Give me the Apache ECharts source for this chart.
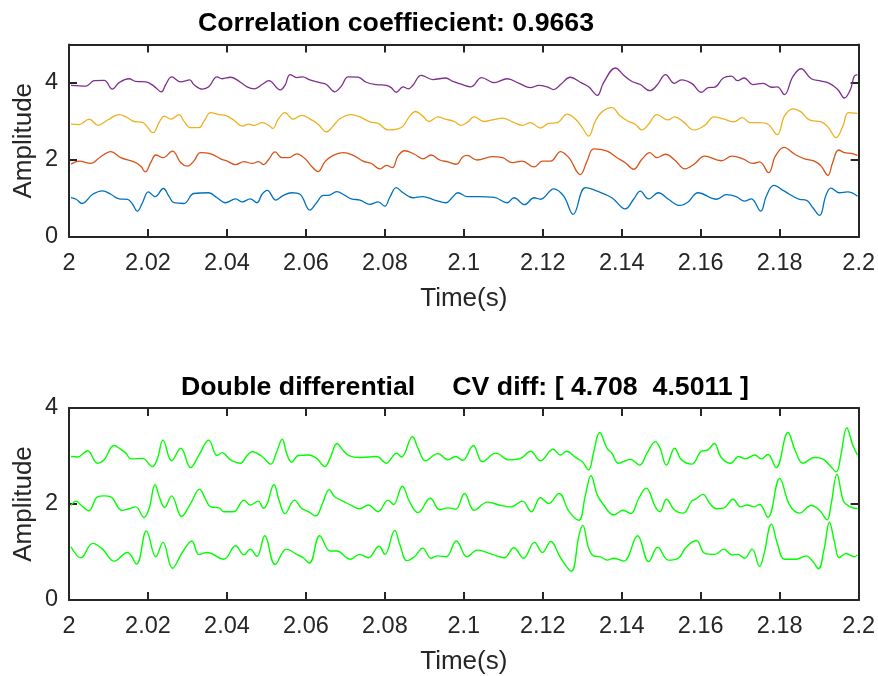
<!DOCTYPE html>
<html>
<head>
<meta charset="utf-8">
<script src="https://cdn.jsdelivr.net/npm/echarts@6/dist/echarts.min.js"></script>
<style>
  html, body { margin: 0; padding: 0; background: #fff; }
  #chart { width: 878px; height: 676px; }
</style>
</head>
<body>
<div id="chart"></div>
<script>
// Each trace: [milliseconds after t = 2 s, amplitude]
const topBlue = [[0.5,1.02],[1.8,0.98],[3.3,0.87],[6.0,1.11],[8.5,1.20],[10.6,1.11],[12.7,0.99],[14.8,0.98],[16.1,0.85],[17.3,0.67],[18.6,0.89],[20.1,1.17],[21.8,1.05],[23.9,1.26],[25.3,1.06],[26.6,0.89],[29.1,0.87],[31.6,1.13],[35.4,1.15],[37.5,1.02],[39.6,0.89],[42.2,0.99],[43.9,0.91],[45.9,0.99],[47.6,0.89],[48.9,1.11],[50.2,1.21],
[52.4,0.96],[54.3,1.08],[56.4,1.15],[58.5,1.11],[61.0,0.70],[62.7,0.89],[64.4,1.08],[65.7,1.08],[67.8,1.18],[69.9,1.08],[71.5,0.99],[73.7,0.96],[76.2,0.85],[78.3,0.91],[80.0,0.80],[81.2,1.02],[82.9,1.28],[84.6,1.15],[87.1,1.02],[89.6,1.05],[92.6,0.96],[95.5,0.89],[97.0,1.02],[98.5,1.15],[100.8,1.05],
[103.4,1.05],[107.7,1.03],[111.0,0.89],[112.7,1.02],[115.4,0.84],[117.8,1.02],[119.4,0.98],[122.8,1.25],[125.3,1.06],[127.7,0.59],[130.8,1.28],[133.8,1.19],[137.5,1.02],[140.9,0.73],[143.0,0.98],[144.7,1.19],[146.8,0.99],[149.3,1.15],
[151.8,0.98],[154.7,0.82],[156.8,0.91],[159.3,1.15],[164.0,0.98],[166.5,1.10],[169.0,1.05],[171.1,0.93],[172.8,0.99],[175.2,0.67],[176.6,1.06],[178.5,1.34],[181.2,1.19],[185.0,0.98],[186.7,0.96],[188.4,0.76],[190.1,0.56],[191.7,1.08],[193.0,1.27],[195.1,1.15],[197.2,1.17],[199.7,1.06]];

const topRed = [[0.5,1.89],[2.6,1.97],[5.6,1.91],[7.7,2.06],[10.6,2.22],[13.1,2.06],[16.5,1.95],[18.2,1.84],[19.3,1.69],[20.7,1.93],[22.0,2.13],[23.8,2.06],[26.2,2.23],[28.3,1.93],[30.0,1.84],[31.6,1.97],[33.3,2.19],[35.9,2.16],[38.4,2.03],[40.1,1.97],[42.2,1.88],[44.3,1.96],[46.4,1.91],[48.0,1.96],[49.3,1.88],[50.6,2.02],
[52.2,2.21],[53.9,2.06],[55.6,2.06],[57.7,2.16],[59.8,2.03],[61.4,1.84],[63.1,1.70],[64.8,1.95],[66.9,2.12],[69.4,2.19],[72.0,2.12],[74.5,1.97],[76.6,1.91],[78.7,1.77],[80.4,1.86],[81.9,1.80],[83.3,2.10],[85.0,2.24],[87.5,2.15],[89.6,2.03],[91.7,2.13],[93.9,2.00],[96.0,1.95],[98.1,1.89],[99.7,2.08],[100.8,2.12],
[103.4,2.00],[107.2,2.09],[109.8,2.06],[112.3,1.93],[114.8,1.97],[117.8,1.82],[119.9,1.97],[122.0,1.97],[124.5,2.22],[126.6,2.06],[129.5,1.62],[131.2,1.97],[132.9,2.29],[136.3,2.23],[138.8,2.06],[140.9,1.93],[143.0,1.76],[145.1,2.02],[147.1,2.19],[148.9,2.06],
[151.1,2.15],[153.4,2.00],[156.0,1.77],[158.3,1.89],[161.0,2.10],[165.2,1.98],[167.9,2.10],[170.7,2.03],[173.2,1.91],[174.9,1.95],[177.2,1.67],[178.9,2.10],[181.1,2.33],[183.8,2.15],[186.3,2.03],[188.8,1.97],[190.5,1.84],[192.2,1.60],[193.4,1.93],[194.9,2.26],[196.4,2.19],[198.1,2.17],[199.7,2.12]];

const topYellow = [[0.5,2.93],[2.6,2.92],[5.1,3.06],[7.4,2.90],[9.8,3.04],[12.7,3.18],[14.4,3.12],[16.5,3.00],[18.6,2.98],[21.3,2.71],[22.8,2.97],[24.1,3.14],[25.8,3.06],[27.9,3.18],[29.1,3.01],[30.8,2.84],[32.9,2.84],[34.2,3.01],[35.9,3.23],[38.0,3.18],[39.6,3.16],[41.7,3.04],[43.9,2.88],[45.5,2.93],[47.0,2.90],[48.9,2.97],[50.6,2.90],
[51.6,2.82],[53.0,3.06],[54.7,3.23],[56.8,3.06],[58.9,3.16],[61.0,3.07],[63.1,2.93],[65.2,2.73],[66.9,2.88],[68.6,3.07],[71.5,3.18],[73.7,3.12],[76.2,2.99],[78.3,2.95],[80.8,2.78],[83.3,2.81],[84.6,2.88],[86.3,3.14],[87.8,3.26],[89.6,3.14],[91.2,3.00],[93.4,3.12],[95.4,3.06],[97.6,3.00],[99.3,2.90],[100.8,2.97],
[102.6,3.12],[105.1,3.00],[107.2,3.04],[109.8,3.09],[112.3,2.99],[114.8,2.90],[116.9,2.97],[119.4,2.83],[121.5,2.95],[123.7,2.97],[126.2,3.19],[128.3,3.06],[130.0,2.84],[131.6,2.62],[133.3,3.01],[135.0,3.25],[137.5,3.36],[139.6,3.14],[141.7,3.00],[143.4,2.93],[145.1,2.78],[146.8,2.93],[148.9,3.18],
[151.6,3.04],[153.4,3.12],[155.6,2.99],[158.3,2.78],[161.0,2.90],[163.4,3.12],[165.7,3.07],[168.4,2.99],[170.5,3.10],[172.6,2.97],[174.9,2.97],[177.0,2.93],[179.4,2.66],[181.2,3.14],[183.3,3.33],[185.4,3.25],[187.5,3.04],[190.5,2.99],[192.2,2.86],[194.3,2.58],[196.0,2.88],[197.4,3.23],[199.7,3.21]];

const topPurple = [[0.5,3.94],[4.3,3.92],[6.4,4.06],[8.9,4.07],[11.0,3.84],[12.7,4.01],[15.2,4.11],[16.9,4.04],[19.4,4.03],[21.5,3.92],[23.4,3.77],[24.5,3.96],[26.0,4.16],[28.3,4.03],[30.6,4.08],[31.6,3.96],[33.8,3.84],[35.4,3.90],[37.5,4.16],[38.8,4.11],[40.9,4.15],[43.0,4.05],[45.1,3.90],[47.0,3.85],[48.9,3.96],[50.6,4.06],
[53.5,3.82],[54.7,3.94],[56.0,4.22],[57.7,4.14],[59.2,4.16],[61.0,4.08],[63.5,4.01],[65.2,3.96],[67.3,3.77],[69.0,3.92],[70.7,4.16],[73.2,4.15],[75.3,4.02],[77.9,3.96],[80.4,3.94],[81.6,3.88],[82.9,3.76],[84.6,3.90],[85.9,3.85],[87.1,3.94],[89.2,4.20],[92.2,4.09],[95.4,4.13],[97.2,4.04],[99.3,3.97],
[101.8,3.90],[104.5,4.14],[107.7,4.01],[111.0,4.11],[114.0,3.99],[116.9,3.88],[119.0,3.94],[121.1,3.90],[122.8,3.83],[124.5,3.96],[127.0,4.15],[129.5,4.02],[131.6,3.90],[133.8,3.68],[135.4,4.01],[138.4,4.39],[140.5,4.20],[142.6,4.04],[144.7,3.96],[147.1,3.80],[148.9,3.94],
[151.1,4.22],[153.3,3.99],[155.1,4.08],[157.7,3.99],[160.2,3.76],[161.9,3.88],[163.5,3.89],[165.7,4.13],[167.8,4.18],[169.3,4.06],[171.0,4.13],[173.2,3.96],[175.8,3.99],[177.9,3.89],[179.4,3.90],[181.2,3.70],[183.3,4.16],[185.4,4.37],[188.0,4.11],[190.5,4.05],[192.6,3.99],[194.7,3.83],[196.4,3.61],[197.9,3.83],[198.9,4.18],[199.7,4.22]];

const diffUpper = [[0.5,2.99],[2.2,2.98],[4.7,3.11],[7.2,2.85],[8.9,2.92],[11.4,3.22],[13.1,3.14],[14.4,3.06],[15.7,2.94],[18.6,2.95],[21.1,2.78],[22.4,2.95],[23.8,3.33],[26.0,2.90],[28.3,3.16],[30.8,2.76],[32.9,3.02],[35.4,3.33],[37.5,3.01],[38.8,3.07],[40.9,2.92],[43.4,2.85],[45.1,3.01],[46.4,3.09],[48.9,2.99],[51.1,2.83],
[52.6,3.09],[54.0,3.35],[55.1,3.06],[56.4,2.87],[58.1,3.01],[60.6,3.02],[62.7,2.95],[64.8,2.78],[66.1,2.95],[67.9,3.26],[69.4,3.12],[70.9,3.01],[73.6,2.97],[75.8,2.98],[77.9,2.99],[80.4,2.85],[81.6,2.95],[82.9,3.06],[84.2,2.98],[87.0,3.40],[88.4,3.16],[90.3,2.90],[93.4,3.05],[96.0,2.92],[97.9,2.99],[99.7,2.91],
[102.4,3.22],[104.7,2.88],[108.1,3.06],[111.4,2.92],[114.4,2.95],[116.9,3.10],[119.4,2.90],[122.6,3.14],[124.5,3.02],[126.0,3.10],[128.3,2.97],[130.0,2.88],[131.6,2.71],[132.9,3.09],[134.4,3.49],[136.3,3.16],[137.5,3.06],[139.2,2.85],[142.2,2.93],[144.5,2.81],[146.4,3.06],[148.5,3.30],[149.7,3.16],
[151.3,2.81],[153.4,3.16],[155.1,2.92],[157.7,2.83],[160.2,3.10],[161.7,3.12],[163.4,3.26],[165.2,2.97],[167.6,2.85],[169.6,2.99],[171.3,2.94],[173.7,3.02],[175.3,2.94],[177.0,3.03],[179.1,2.76],[182.1,3.49],[183.9,3.12],[185.9,2.85],[188.8,2.97],[190.9,2.94],[192.6,2.81],[194.3,2.67],[195.5,3.02],[197.0,3.59],[198.5,3.23],[199.7,3.02]];

const diffMiddle = [[0.5,1.97],[1.8,2.06],[3.0,1.98],[5.0,1.86],[7.2,2.15],[8.9,2.17],[10.6,2.15],[13.4,1.87],[15.2,1.90],[16.9,1.94],[19.0,1.72],[20.3,1.91],[21.8,2.40],[23.0,2.12],[24.2,1.93],[26.0,2.17],[28.5,1.74],[30.8,2.01],[33.1,2.31],[34.4,2.13],[35.9,1.94],[38.0,1.92],[39.2,1.84],[41.7,1.84],[44.3,2.08],[45.9,1.98],[47.9,2.06],[49.3,1.91],[50.2,2.01],
[51.9,2.40],[53.3,2.05],[54.7,1.80],[57.1,2.08],[58.9,1.91],[60.6,1.84],[62.5,1.75],[64.2,2.01],[65.9,2.30],[67.3,2.15],[69.4,2.06],[71.5,1.97],[73.6,1.90],[75.8,1.98],[78.3,1.84],[80.8,2.08],[82.2,1.99],[84.4,2.37],[86.3,2.04],[88.4,1.82],[91.5,2.12],[93.9,1.88],[96.0,1.92],[97.9,1.89],[100.2,2.22],
[102.6,1.87],[106.0,2.04],[108.9,1.98],[111.9,1.94],[114.8,2.06],[117.1,1.84],[119.4,2.13],[121.5,2.01],[124.1,2.22],[126.6,1.85],[129.1,1.66],[130.8,2.19],[132.2,2.59],[133.8,2.19],[135.4,1.98],[138.0,1.77],[140.3,1.87],[142.3,1.80],[144.3,2.12],[146.2,2.33],[148.5,1.94],[149.7,1.84],
[151.3,2.10],[153.4,1.87],[155.6,1.81],[157.7,2.06],[158.7,2.10],[160.6,2.20],[162.3,2.01],[164.0,1.90],[165.9,1.92],[168.2,2.10],[170.1,1.94],[171.8,1.98],[173.5,1.94],[174.9,1.99],[177.0,1.72],[180.0,2.53],[182.5,1.98],[185.0,1.81],[188.0,1.97],[190.1,1.87],[192.0,1.67],[193.0,1.98],[194.5,2.62],[196.2,2.05],[197.9,1.94],[199.7,1.90]];

const diffLower = [[0.5,1.11],[3.0,0.88],[6.0,1.18],[8.5,1.06],[11.4,0.81],[14.8,0.99],[17.1,0.75],[19.6,1.44],[22.0,0.90],[23.8,1.20],[26.2,0.66],[28.7,0.99],[31.1,1.23],[32.9,0.95],[35.0,0.99],[39.2,0.85],[42.2,1.13],[44.3,0.94],[45.9,1.06],[47.6,0.91],[49.6,1.34],
[52.2,0.74],[55.1,1.06],[57.7,0.95],[59.3,0.88],[60.9,0.77],[63.5,1.34],[66.1,1.02],[67.8,1.02],[71.3,0.85],[73.6,0.95],[75.8,0.88],[78.5,1.12],[80.0,0.95],[82.5,1.45],[83.8,1.15],[85.6,0.82],[87.5,0.90],[89.6,1.08],[91.7,0.87],[93.4,0.92],[95.5,0.90],[98.1,1.23],[100.8,0.90],
[103.4,1.04],[107.2,0.95],[110.2,0.88],[112.7,1.09],[115.1,0.87],[117.9,1.20],[119.9,0.99],[122.0,1.22],[124.5,0.88],[127.2,0.60],[129.1,1.32],[130.1,1.56],[131.6,1.08],[132.9,0.92],[134.6,0.90],[136.3,0.83],[138.0,0.87],[140.5,0.81],[144.0,1.34],[146.8,0.80],[149.1,1.10],
[151.8,0.83],[154.3,0.87],[156.4,1.11],[158.9,1.24],[161.0,0.97],[163.5,0.95],[165.9,1.06],[167.9,0.94],[169.4,0.95],[171.1,0.87],[173.0,1.06],[174.9,0.70],[176.0,0.95],[177.9,1.58],[179.5,1.15],[181.2,0.85],[184.2,0.85],[186.7,0.92],[188.4,0.80],[189.8,0.65],[191.3,1.08],[192.6,1.62],[193.9,1.20],[195.1,0.88],[196.8,0.97],[198.9,0.90],[199.7,0.94]];

const topTitle = 'Correlation coeffiecient: 0.9663';
const bottomTitle = 'Double differential     CV diff: [ 4.708  4.5011 ]';
const xName = 'Time(s)';
const yName = 'Amplitude';

const FONT = '"Liberation Sans", Arial, Helvetica, sans-serif';
const AXIS_COLOR = '#262626';

function toSeconds(trace) {
  return trace.map(p => [2 + p[0] / 1000, p[1]]);
}

const axisLine = { show: true, onZero: false, lineStyle: { color: AXIS_COLOR, width: 2 } };
const axisTick = { show: true, inside: true, length: 8, lineStyle: { color: AXIS_COLOR, width: 2 } };

function xAxisPair(gridIndex) {
  const base = { type: 'value', gridIndex, min: 2, max: 2.2, interval: 0.02, splitLine: { show: false }, axisLine, axisTick };
  return [
    Object.assign({}, base, {
      position: 'bottom',
      axisLabel: { color: AXIS_COLOR, fontSize: 23.5, fontFamily: FONT, margin: 15, formatter: v => String(+v.toFixed(2)) },
      name: xName, nameLocation: 'middle', nameGap: 49,
      nameTextStyle: { color: AXIS_COLOR, fontSize: 26, fontFamily: FONT }
    }),
    Object.assign({}, base, { position: 'top', axisLabel: { show: false } })
  ];
}

function yAxisPair(gridIndex, max) {
  const base = { type: 'value', gridIndex, min: 0, max, interval: 2, splitLine: { show: false }, axisLine, axisTick };
  return [
    Object.assign({}, base, {
      position: 'left',
      axisLabel: { color: AXIS_COLOR, fontSize: 23.5, fontFamily: FONT, margin: 11, showMaxLabel: max % 2 === 0 },
      name: yName, nameLocation: 'middle', nameGap: 32, nameMoveOverlap: false,
      nameTextStyle: { color: AXIS_COLOR, fontSize: 26, fontFamily: FONT }
    }),
    Object.assign({}, base, { position: 'right', axisLabel: { show: false } })
  ];
}

function trace(data, color, xi, yi, width) {
  return {
    type: 'line', data: toSeconds(data), xAxisIndex: xi, yAxisIndex: yi,
    showSymbol: false, smooth: 0.4, clip: true,
    lineStyle: { color, width }, emphasis: { disabled: true }
  };
}

const chart = echarts.init(document.getElementById('chart'), null, { renderer: 'canvas' });
chart.setOption({
  animation: false,
  backgroundColor: '#ffffff',
  title: [
    { text: topTitle, left: 198, top: 10, padding: 0,
      textStyle: { color: '#000', fontSize: 26.7, fontWeight: 'bold', fontFamily: FONT } },
    { text: bottomTitle, left: 181, top: 374, padding: 0,
      textStyle: { color: '#000', fontSize: 26.7, fontWeight: 'bold', fontFamily: FONT } }
  ],
  grid: [
    { left: 69, right: 17, top: 44.5, height: 192.5, show: false },
    { left: 69, right: 17, top: 408, height: 192, show: false }
  ],
  xAxis: [...xAxisPair(0), ...xAxisPair(1)],
  yAxis: [...yAxisPair(0, 5), ...yAxisPair(1, 4)],
  series: [
    trace(topBlue, '#0072BD', 0, 0, 1.3),
    trace(topRed, '#D95319', 0, 0, 1.3),
    trace(topYellow, '#EDB120', 0, 0, 1.3),
    trace(topPurple, '#7E2F8E', 0, 0, 1.3),
    trace(diffLower, '#00FF00', 2, 2, 1.4),
    trace(diffMiddle, '#00FF00', 2, 2, 1.4),
    trace(diffUpper, '#00FF00', 2, 2, 1.4)
  ]
});
</script>
</body>
</html>
